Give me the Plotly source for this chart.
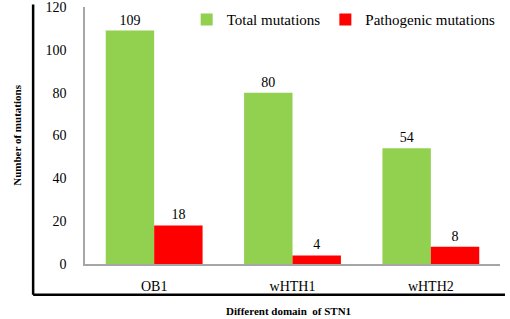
import plotly.graph_objects as go

categories = ["OB1", "wHTH1", "wHTH2"]
tick_labels = ["OB1", "wHTH1", "wHTH2"]
total_mutations = [109, 80, 54]
pathogenic_mutations = [18, 4, 8]

FONT = "Liberation Serif"

fig = go.Figure()
fig.add_trace(go.Bar(
    x=categories, y=total_mutations, name="Total mutations",
    marker=dict(color="#92D050", line=dict(width=0)),
    text=[str(v) for v in total_mutations], textposition="outside",
    textfont=dict(family=FONT, size=14, color="#000000"), cliponaxis=False,
))
fig.add_trace(go.Bar(
    x=categories, y=pathogenic_mutations, name="Pathogenic mutations",
    marker=dict(color="#FF0000", line=dict(width=0)),
    text=[str(v) for v in pathogenic_mutations], textposition="outside",
    textfont=dict(family=FONT, size=14, color="#000000"), cliponaxis=False,
))

fig.update_layout(
    width=510, height=319,
    margin=dict(l=85, r=10, t=7, b=55, autoexpand=False),
    paper_bgcolor="white", plot_bgcolor="white",
    barmode="group", bargap=0.3, bargroupgap=0,
    font=dict(family=FONT, size=14, color="#000000"),
    showlegend=True,
    legend=dict(orientation="h", x=0.245, xanchor="left", y=0.95, yanchor="middle",
                font=dict(family=FONT, size=15), itemwidth=30, traceorder="normal",
                bgcolor="rgba(0,0,0,0)"),
    xaxis=dict(
        tickvals=categories, ticktext=tick_labels, showgrid=False, automargin=False,
        showline=True, linecolor="#A6A6A6", linewidth=1.5, ticks="",
        tickfont=dict(family=FONT, size=14), zeroline=False, ticklabelstandoff=8,
        ticklabeloverflow="allow",
    ),
    yaxis=dict(
        range=[0, 120], dtick=20, showgrid=False, showline=True, automargin=False,
        linecolor="#A6A6A6", linewidth=1.5, ticks="", zeroline=False,
        tickfont=dict(family=FONT, size=14), ticklabelstandoff=14,
        ticklabeloverflow="allow",
    ),
    shapes=[
        dict(type="line", xref="paper", yref="paper", x0=-0.125, x1=-0.125, y0=1.01, y1=-0.12,
             line=dict(color="black", width=2.5)),
        dict(type="line", xref="paper", yref="paper", x0=-0.125, x1=1.012, y0=-0.12, y1=-0.12,
             line=dict(color="black", width=2.5)),
    ],
    annotations=[
        dict(text="<b>Number of mutations</b>", xref="paper", yref="paper",
             x=-0.185, y=0.5, textangle=-90, showarrow=False,
             font=dict(family=FONT, size=11)),
        dict(text="<b>Different domain  of STN1</b>", xref="paper", yref="paper",
             x=0.49, y=-0.183, yanchor="middle", showarrow=False,
             font=dict(family=FONT, size=11)),
    ],
)

fig.write_html("out.html", config={"displayModeBar": False},
               post_script="document.body.style.margin='0';")
